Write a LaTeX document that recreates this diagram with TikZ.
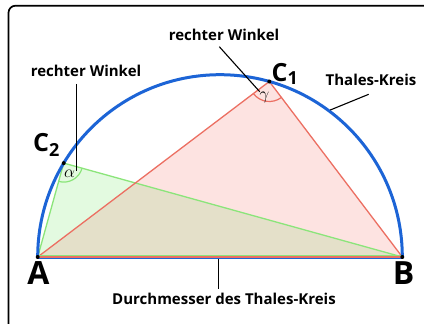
\documentclass[tikz,border=0pt]{standalone}
\usepackage{fontspec}
\setmainfont{Open Sans}
\begin{document}
\begin{tikzpicture}[x=1pt,y=1pt,
  lbl/.style={font=\bfseries\fontsize{15}{15}\selectfont, inner sep=0pt, anchor=base},
  pt/.style={font=\bfseries\fontsize{25}{25}\selectfont, inner sep=0pt, anchor=base west},
  big/.style={font=\bfseries\fontsize{32}{32}\selectfont, inner sep=0pt, anchor=base},
  greek/.style={inner sep=0pt, font=\fontsize{16}{16}\selectfont},
  pointer/.style={draw=black, line width=1.1pt},
  dot/.style={circle, fill=black, inner sep=0pt, minimum size=4pt}]
\definecolor{pinkfill}{HTML}{FDE3E1}
\definecolor{redline}{HTML}{EC6F62}
\definecolor{greenfill}{HTML}{E3FAE0}
\definecolor{greenline}{HTML}{8BE57A}
\definecolor{bothfill}{HTML}{E4E0C9}
\definecolor{thalesblue}{HTML}{1C64D6}
\useasboundingbox (0,0) rectangle (424,324);
\fill[white] (0,0) rectangle (424,324);
% frame
\draw[line width=1.7pt, rounded corners=7pt] (8.5,318.3) rectangle (445,-20);
% points
\coordinate (O) at (220,67);
\coordinate (A) at (37.7,67);
\coordinate (B) at (402.3,67);
\coordinate (C1) at ([shift={(74.3:182.3)}]O);
\coordinate (C2) at ([shift={(149:182.3)}]O);
\coordinate (P) at (intersection of A--C1 and C2--B);
% fills
\fill[pinkfill] (A) -- (C1) -- (B) -- cycle;
\fill[greenfill] (A) -- (C2) -- (B) -- cycle;
\fill[bothfill] (A) -- (P) -- (B) -- cycle;
% angle arcs
\draw[greenline, line width=1.2pt] ([shift={(254.5:19)}]C2) arc[start angle=254.5, end angle=344.5, radius=19];
\draw[redline, line width=1.2pt] ([shift={(217.2:20)}]C1) arc[start angle=217.2, end angle=307.2, radius=20];
% triangle sides
\draw[greenline, line width=1.3pt] (A) -- (C2) -- (B);
\draw[redline, line width=1.3pt] (A) -- (C1) -- (B);
% diameter
\draw[thalesblue, line width=1.4pt] ([yshift=-1.5pt]A) -- ([yshift=-1.5pt]B);
\draw[redline, line width=1.4pt] (A) -- (B);
\draw[greenline, line width=1.2pt] ([yshift=1.4pt]A) -- ([yshift=1.4pt]B);
% Thales circle
\draw[thalesblue, line width=3pt] (B) arc[start angle=0, end angle=180, radius=182.3];
% dots
\node[dot] (dA) at (A) {};
\node[dot] (dB) at (B) {};
\node[dot] (dC1) at (C1) {};
\node[dot] (dC2) at (C2) {};
% greek letters
\node[greek] (alpha) at (69.5,150.5) {$\alpha$};
\node[greek] (gamma) at (264.5,226.5) {$\gamma$};
% point labels
\node[pt] (lC1) at (271.5,242.5) {C\raisebox{-3pt}{\fontsize{18}{18}\selectfont 1}};
\node[pt] (lC2) at (33,172.3) {C\raisebox{-5pt}{\fontsize{18}{18}\selectfont 2}};
\node[big] (lA) at (38.3,39) {A};
\node[big] (lB) at (403.5,39) {B};
% text labels
\node[lbl] (rw1) at (86,247) {rechter Winkel};
\node[lbl] (rw2) at (224,283) {rechter Winkel};
\node[lbl] (tk) at (371,238) {Thales-Kreis};
\node[lbl] (dm) at (224,19) {Durchmesser des Thales-Kreis};
% pointers
\coordinate (e1) at (76.5,153);
\coordinate (e2) at (259.7,232.3);
\coordinate (e3) at (330.3,214);
\coordinate (e4) at (218.3,65.3);
\draw[pointer] (76.5,240) -- (e1);
\draw[pointer] (219.3,277.3) -- (e2);
\draw[pointer] (368.7,229.7) -- (e3);
\draw[pointer] (218.3,35.3) -- (e4);
\end{tikzpicture}
\end{document}
